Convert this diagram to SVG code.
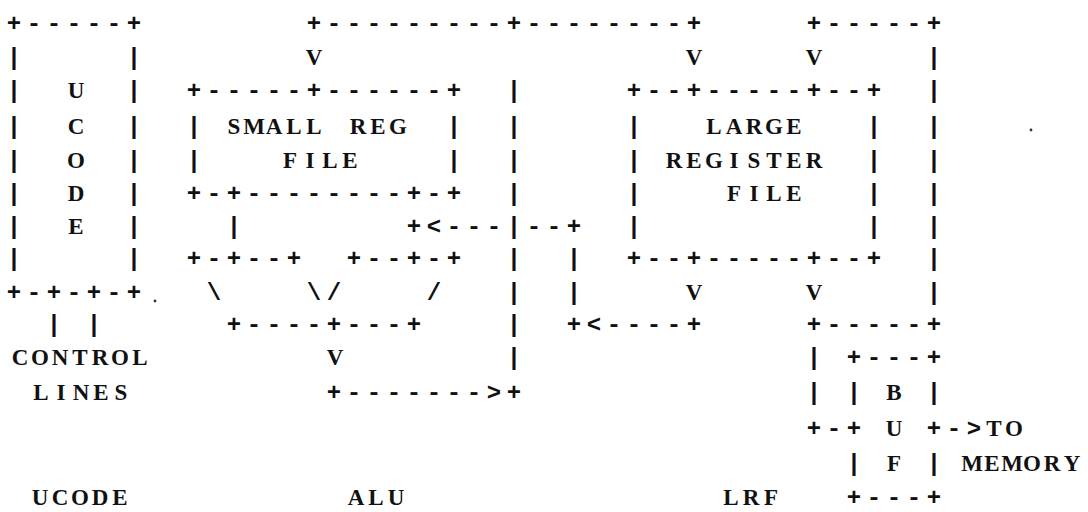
<svg xmlns="http://www.w3.org/2000/svg" width="1088" height="512" viewBox="0 0 1088 512" xml:space="preserve">
<style>
text{fill:#111;white-space:pre}
.a{font-family:"Liberation Mono","DejaVu Sans Mono",monospace;font-size:24px;font-weight:bold;letter-spacing:5.6px}
.l{font-family:"Liberation Serif","DejaVu Serif",serif;font-size:23px;font-weight:bold;text-anchor:middle}
.speck{fill:#333}
</style>
<rect width="1088" height="512" fill="#fff"/>
<g id="ucode">
<text class="a" x="6.8" y="30.5">+-----+</text>
<text class="a" x="6.8" y="64.5">|</text><text class="a" x="126.8" y="64.5">|</text>
<text class="a" x="6.8" y="97.5">|</text><text class="a" x="126.8" y="97.5">|</text>
<text class="a" x="6.8" y="133.5">|</text><text class="a" x="126.8" y="133.5">|</text>
<text class="a" x="6.8" y="167.5">|</text><text class="a" x="126.8" y="167.5">|</text>
<text class="a" x="6.8" y="200.5">|</text><text class="a" x="126.8" y="200.5">|</text>
<text class="a" x="6.8" y="233.5">|</text><text class="a" x="126.8" y="233.5">|</text>
<text class="a" x="6.8" y="265.5">|</text><text class="a" x="126.8" y="265.5">|</text>
<text class="a" x="6.8" y="299.5">+-+-+-+</text>
<text class="l" x="76" y="98">U</text>
<text class="l" x="76" y="134">C</text>
<text class="l" x="76" y="168">O</text>
<text class="l" x="76" y="201">D</text>
<text class="l" x="76" y="234">E</text>
<text class="l" x="40 60 80 100 120" y="505">UCODE</text>
</g>
<g id="control-lines">
<text class="l" x="20 40 60 80 100 120 140" y="365">CONTROL</text>
<text class="l" x="41 61 81 101 121" y="400">LINES</text>
</g>
<g id="small-reg-file">
<text class="a" x="186.8" y="97.5">+-----+------+</text>
<text class="a" x="186.8" y="133.5">|</text><text class="a" x="446.8" y="133.5">|</text>
<text class="a" x="186.8" y="167.5">|</text><text class="a" x="446.8" y="167.5">|</text>
<text class="a" x="186.8" y="200.5">+-+--------+-+</text>
<text class="l" x="234 254 274 294 314" y="134">SMALL</text>
<text class="l" x="358 378 398" y="134">REG</text>
<text class="l" x="290 310 330 350" y="168">FILE</text>
</g>
<g id="alu">
<text class="a" x="186.8" y="265.5">+-+--+</text>
<text class="a" x="346.8" y="265.5">+--+-+</text>
<text class="a" x="206.8" y="299.5">\</text>
<text class="a" x="306.8" y="299.5">\/</text>
<text class="a" x="426.8" y="299.5">/</text>
<text class="a" x="226.8" y="331.5">+----+---+</text>
<text class="l" x="356 376 396" y="505">ALU</text>
</g>
<g id="large-register-file">
<text class="a" x="626.8" y="97.5">+--+-----+--+</text>
<text class="a" x="626.8" y="133.5">|</text><text class="a" x="866.8" y="133.5">|</text>
<text class="a" x="626.8" y="167.5">|</text><text class="a" x="866.8" y="167.5">|</text>
<text class="a" x="626.8" y="200.5">|</text><text class="a" x="866.8" y="200.5">|</text>
<text class="a" x="626.8" y="233.5">|</text><text class="a" x="866.8" y="233.5">|</text>
<text class="a" x="626.8" y="265.5">+--+-----+--+</text>
<text class="l" x="714 734 754 774 794" y="134">LARGE</text>
<text class="l" x="674 694 714 734 754 774 794 814" y="168">REGISTER</text>
<text class="l" x="734 754 774 794" y="201">FILE</text>
<text class="l" x="731 751 771" y="505">LRF</text>
</g>
<g id="buf">
<text class="a" x="846.8" y="364.5">+---+</text>
<text class="a" x="846.8" y="399.5">|</text><text class="a" x="926.8" y="399.5">|</text>
<text class="a" x="846.8" y="435.5">+</text><text class="a" x="926.8" y="435.5">+</text>
<text class="a" x="846.8" y="470.5">|</text><text class="a" x="926.8" y="470.5">|</text>
<text class="a" x="846.8" y="504.5">+---+</text>
<text class="l" x="894" y="400">B</text>
<text class="l" x="894" y="436">U</text>
<text class="l" x="894" y="471">F</text>
<text class="l" x="994 1014" y="436">TO</text>
<text class="l" x="972 992 1012 1032 1052 1072" y="471">MEMORY</text>
</g>
<g id="connectors">
<text class="a" x="306.8" y="30.5">+---------+--------+</text>
<text class="a" x="806.8" y="30.5">+-----+</text>
<text class="l" x="314" y="65">V</text>
<text class="l" x="694" y="65">V</text>
<text class="l" x="814" y="65">V</text>
<text class="a" x="926.8" y="64.5">|</text>
<text class="a" x="926.8" y="97.5">|</text>
<text class="a" x="926.8" y="133.5">|</text>
<text class="a" x="926.8" y="167.5">|</text>
<text class="a" x="926.8" y="200.5">|</text>
<text class="a" x="926.8" y="233.5">|</text>
<text class="a" x="926.8" y="265.5">|</text>
<text class="a" x="926.8" y="299.5">|</text>
<text class="a" x="506.8" y="97.5">|</text>
<text class="a" x="506.8" y="133.5">|</text>
<text class="a" x="506.8" y="167.5">|</text>
<text class="a" x="506.8" y="200.5">|</text>
<text class="a" x="226.8" y="233.5">|</text>
<text class="a" x="406.8" y="233.5">+&lt;---|--+</text>
<text class="a" x="506.8" y="265.5">|</text>
<text class="a" x="566.8" y="265.5">|</text>
<text class="a" x="506.8" y="299.5">|</text>
<text class="a" x="566.8" y="299.5">|</text>
<text class="l" x="694" y="300">V</text>
<text class="l" x="814" y="300">V</text>
<text class="a" x="46.8" y="331.5">|</text><text class="a" x="86.8" y="331.5">|</text>
<text class="a" x="506.8" y="331.5">|</text>
<text class="a" x="566.8" y="331.5">+&lt;----+</text>
<text class="a" x="806.8" y="331.5">+-----+</text>
<text class="l" x="335" y="365">V</text>
<text class="a" x="506.8" y="364.5">|</text>
<text class="a" x="806.8" y="364.5">|</text>
<text class="a" x="326.8" y="399.5">+-------&gt;+</text>
<text class="a" x="806.8" y="399.5">|</text>
<text class="a" x="806.8" y="435.5">+-</text>
<text class="a" x="946.8" y="435.5">-&gt;</text>
</g>
<circle class="speck" cx="155" cy="301" r="1.4"/>
<circle class="speck" cx="1031" cy="130" r="1.4"/>
</svg>
